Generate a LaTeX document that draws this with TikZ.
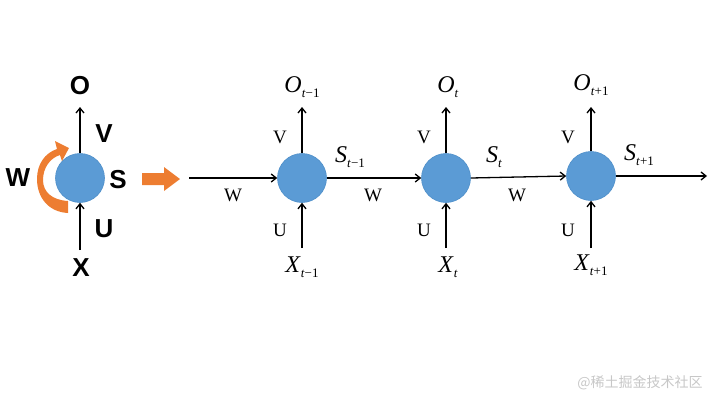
\documentclass[tikz,border=0pt]{standalone}
\usepackage{fontspec}
\setmainfont{Liberation Serif}
\setsansfont{Liberation Sans}
\newfontfamily\cjkfont{Noto Sans CJK SC}
\usetikzlibrary{arrows.meta}
\definecolor{nodeblue}{HTML}{5B9BD5}
\definecolor{nodeedge}{HTML}{5090CA}
\definecolor{arrorange}{HTML}{ED7D31}
\newcommand\idx[3]{\textit{#1}\raisebox{-0.5ex}{\fontsize{13}{13}\selectfont\textit{#2}#3}}
\tikzset{
  cell/.style={circle, fill=nodeblue, draw=nodeedge, line width=0.6, minimum size=49, inner sep=0},
  conn/.style={line width=1.3, -{Straight Barb[length=5, width=8, line width=1.3]}},
  biglbl/.style={font=\sffamily\bfseries\fontsize{26}{26}\selectfont, inner sep=0},
  wlbl/.style={font=\fontsize{19}{19}\selectfont, inner sep=0},
  mlbl/.style={font=\fontsize{24}{24}\selectfont, inner sep=0},
}
\begin{document}
\begin{tikzpicture}[x=1pt, y=-1pt]
\useasboundingbox (0,0) rectangle (720,405);
% folded cell
\node[cell] (c0) at (80,178) {};
\coordinate (o0) at (80,107);
\coordinate (x0) at (80,250);
\draw[conn] (c0.north) -- (o0);
\draw[conn] (x0) -- (c0.south);
\node[biglbl] (lO) at (80,86) {O};
\node[biglbl] (lV) at (104,134) {V};
\node[biglbl] (lS) at (118,180) {S};
\node[biglbl] (lW) at (18,178) {W};
\node[biglbl] (lU) at (104,229) {U};
\node[biglbl] (lX) at (81,268) {X};
\fill[arrorange] (68,213) .. controls (48,212) and (37,197) .. (37,179)
  .. controls (37,164) and (45,153) .. (57,149) -- (55,141) -- (69,148) -- (62,161) -- (60,155)
  .. controls (50,158) and (43,168) .. (43,180) .. controls (43,192) and (52,200) .. (68,201) -- cycle;
% block arrow
\fill[arrorange] (142,173) -- (164,173) -- (164,167) -- (180,179) -- (164,191) -- (164,185) -- (142,185) -- cycle;
% unrolled cells
\node[cell] (c1) at (302,178) {};
\node[cell] (c2) at (446,178) {};
\node[cell] (c3) at (591,176) {};
\coordinate (in) at (189,178);
\coordinate (out) at (707,176);
\draw[conn] (in) -- (c1.west);
\draw[conn] (c1.east) -- (c2.west);
\draw[conn] (c2.east) -- (c3.west);
\draw[conn] (c3.east) -- (out);
\foreach \c/\x in {c1/302, c2/446, c3/591}{
  \coordinate (\c o) at (\x,107);
  \coordinate (\c x) at (\x,248);
  \draw[conn] (\c.north) -- (\c o);
  \draw[conn] (\c x) -- (\c.south);
}
\node[wlbl] (w1) at (233,195) {W};
\node[wlbl] (w2) at (373,195) {W};
\node[wlbl] (w3) at (517,195) {W};
\node[wlbl] (v1) at (280,137) {V};
\node[wlbl] (v2) at (424,137) {V};
\node[wlbl] (v3) at (568,137) {V};
\node[wlbl] (u1) at (280,230) {U};
\node[wlbl] (u2) at (424,230) {U};
\node[wlbl] (u3) at (568,230) {U};
\node[mlbl] (O1) at (302,87) {\idx{O}{t}{−1}};
\node[mlbl] (O2) at (448,87) {\idx{O}{t}{}};
\node[mlbl] (O3) at (591,85) {\idx{O}{t}{+1}};
\node[mlbl] (S1) at (350,157) {\idx{S}{t}{−1}};
\node[mlbl] (S2) at (494,157) {\idx{S}{t}{}};
\node[mlbl] (S3) at (639,155) {\idx{S}{t}{+1}};
\node[mlbl] (X1) at (302,267) {\idx{X}{t}{−1}};
\node[mlbl] (X2) at (448,267) {\idx{X}{t}{}};
\node[mlbl] (X3) at (591,265) {\idx{X}{t}{+1}};
% watermark
\node[font=\cjkfont\fontsize{14}{14}\selectfont, text=black!22, inner sep=0] (wm) at (640,383) {@稀土掘金技术社区};
\end{tikzpicture}
\end{document}
